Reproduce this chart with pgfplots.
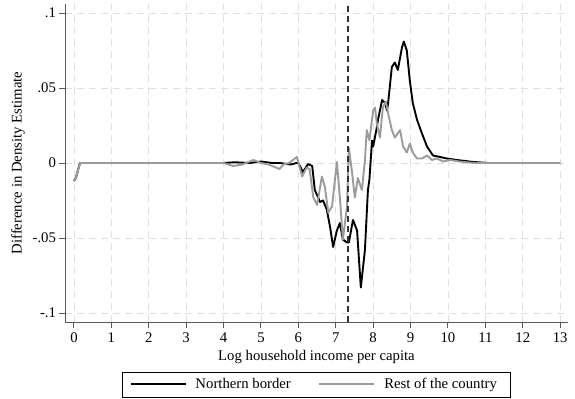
\documentclass[border=0pt]{standalone}
\usepackage{pgfplots}
\pgfplotsset{compat=1.18}
\usepackage{fontspec}
\setmainfont{Liberation Serif}
\definecolor{restgray}{RGB}{155,155,155}
\begin{document}
\begin{tikzpicture}
\begin{axis}[
  scale only axis,
  width=503bp, height=318bp,
  xmin=-0.24, xmax=13.21,
  ymin=-0.106, ymax=0.106,
  axis lines*=left,
  axis line style={black!65, line width=1pt},
  tick align=outside,
  major tick length=5.5bp,
  tick style={black!65, line width=1pt},
  xtick={0,1,...,13},
  ytick={-0.1,-0.05,0,0.05,0.1},
  yticklabels={-.1,-.05,0,.05,.1},
  /pgf/number format/assume math mode=true,
  ticklabel style={font=\fontsize{14.8}{17}\selectfont},
  xticklabel style={yshift=-2bp},
  xlabel={Log household income per capita},
  ylabel={Difference in Density Estimate},
  xlabel style={font=\fontsize{14.8}{17}\selectfont, at={(axis description cs:0.5,-0.1195)}, anchor=base},
  ylabel style={font=\fontsize{14.8}{17}\selectfont, at={(axis description cs:-0.0934,0.5)}, anchor=center},
  grid=major,
  major grid style={dash pattern=on 7bp off 5bp, black!12, line width=0.8pt},
  legend style={at={(axis description cs:0.5,-0.1965)}, anchor=center, legend columns=2,
    draw=black, line width=0.8pt, font=\fontsize{14.8}{17}\selectfont,
    /tikz/every even column/.append style={column sep=16bp},
    inner xsep=4.5bp, inner ysep=2bp,
    nodes={inner xsep=9bp, inner ysep=4.5bp}},
  legend image code/.code={\path (0bp,0bp); \draw[#1, line width=2pt] (2.5bp,0bp) -- (57.5bp,0bp);},
]
\addplot[black, line width=1.9pt, line join=round] coordinates {
(0.0,-0.012) (0.05,-0.010) (0.16,0.0) (4.0,0.0) (4.3,0.0005) (4.7,0.0) (5.0,0.001) (5.3,0.0) (5.5,0.0) (5.8,-0.001) (5.95,0.0) (6.0,0.0) (6.12,-0.006) (6.26,-0.0007) (6.37,-0.002) (6.44,-0.018) (6.58,-0.026) (6.66,-0.025) (6.76,-0.031) (6.85,-0.043) (6.93,-0.056) (7.03,-0.045) (7.11,-0.040) (7.19,-0.051) (7.3,-0.053) (7.35,-0.053) (7.46,-0.038) (7.57,-0.045) (7.67,-0.083) (7.78,-0.058) (7.86,-0.018) (7.9,-0.011) (7.97,0.015) (8.0,0.011) (8.1,0.024) (8.13,0.029) (8.24,0.042) (8.32,0.040) (8.37,0.035) (8.4,0.040) (8.5,0.064) (8.58,0.067) (8.66,0.062) (8.77,0.077) (8.82,0.081) (8.9,0.075) (8.98,0.055) (9.06,0.040) (9.17,0.029) (9.3,0.020) (9.44,0.011) (9.6,0.005) (9.79,0.004) (9.97,0.003) (10.24,0.002) (10.67,0.0007) (11.1,0.0) (13.0,0.0)
};
\addlegendentry{Northern border}
\addplot[restgray, line width=1.9pt, line join=round] coordinates {
(0.0,-0.012) (0.05,-0.010) (0.16,0.0) (4.0,0.0) (4.25,-0.002) (4.5,-0.001) (4.8,0.002) (5.0,0.0) (5.2,-0.001) (5.5,-0.004) (5.6,-0.001) (5.75,0.0) (5.96,0.004) (6.1,-0.009) (6.22,-0.003) (6.3,-0.004) (6.4,-0.023) (6.5,-0.028) (6.63,-0.009) (6.71,-0.016) (6.8,-0.033) (6.9,-0.029) (7.03,0.0007) (7.11,-0.023) (7.19,-0.051) (7.3,-0.029) (7.35,0.010) (7.43,-0.005) (7.51,-0.023) (7.59,-0.010) (7.7,-0.018) (7.78,0.002) (7.83,0.022) (7.9,0.015) (8.0,0.035) (8.05,0.037) (8.1,0.026) (8.18,0.017) (8.26,0.037) (8.34,0.041) (8.4,0.033) (8.5,0.022) (8.58,0.017) (8.72,0.022) (8.8,0.011) (8.9,0.007) (8.98,0.013) (9.06,0.007) (9.17,0.003) (9.3,0.003) (9.44,0.005) (9.57,0.002) (9.7,0.003) (9.87,0.001) (10.06,0.002) (10.3,0.001) (10.7,0.0) (13.0,0.0)
};
\addlegendentry{Rest of the country}
\addplot[black!80, line width=1.3pt, dash pattern=on 6bp off 4bp, forget plot] coordinates {(7.33,-0.106) (7.33,0.106)};
\end{axis}
\pgfresetboundingbox
\path[use as bounding box] ([xshift=-65bp,yshift=-77bp]current axis.south west) rectangle ([xshift=7bp,yshift=4bp]current axis.north east);
\end{tikzpicture}
\end{document}
